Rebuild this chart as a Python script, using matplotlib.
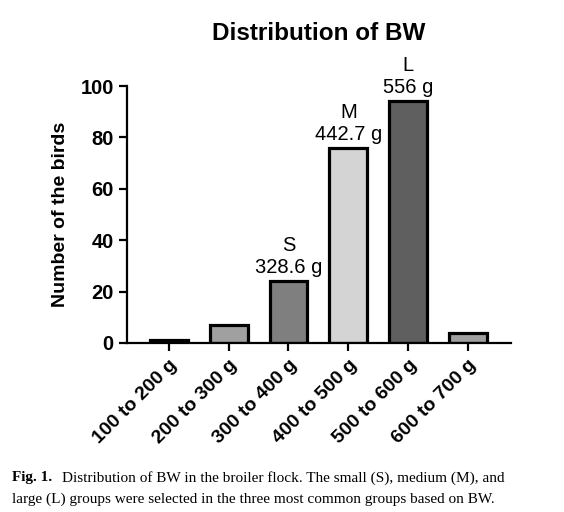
import matplotlib.pyplot as plt

plt.rcParams["font.family"] = ["Liberation Sans", "DejaVu Sans"]

bins = ["100 to 200 g", "200 to 300 g", "300 to 400 g",
        "400 to 500 g", "500 to 600 g", "600 to 700 g"]
counts = [1, 7, 24, 76, 94, 4]
colors = ["#000000", "#a0a0a0", "#7f7f7f", "#d4d4d4", "#5f5f5f", "#a0a0a0"]

groups = {2: "S\n328.6 g", 3: "M\n442.7 g", 4: "L\n556 g"}

fig = plt.figure(figsize=(5.64, 5.12), dpi=100)
ax = fig.add_axes([127 / 564, 1 - 343 / 512, (511 - 127) / 564, (343 - 86) / 512])

x = range(len(bins))
bars = ax.bar(x, counts, width=0.63, color=colors,
              edgecolor="black", linewidth=2.3)

for i, txt in groups.items():
    ax.annotate(txt, (i, counts[i]), xytext=(0, 3),
                textcoords="offset points", ha="center", va="bottom",
                fontsize=14.5, linespacing=1.2)

ax.set_xlim(-0.7, 5.72)
ax.set_ylim(0, 100)
ax.set_yticks([0, 20, 40, 60, 80, 100])
ax.set_xticks(list(x))
ax.set_xticklabels(bins, rotation=45, ha="right", rotation_mode="anchor",
                   fontsize=14, fontweight="bold")
for lab in ax.get_yticklabels():
    lab.set_fontsize(14.5)
    lab.set_fontweight("bold")

ax.spines["top"].set_visible(False)
ax.spines["right"].set_visible(False)
ax.spines["left"].set_linewidth(1.6)
ax.spines["bottom"].set_linewidth(1.6)
ax.tick_params(width=1.6, length=6)

ax.set_ylabel("Number of the birds", fontsize=14, fontweight="bold", labelpad=8)
ax.set_title("Distribution of BW", fontsize=17.5, fontweight="bold", pad=33)

fig.text(12 / 564, 1 - 478 / 512, "Fig. 1.", family="Liberation Serif",
         fontweight="bold", fontsize=11, va="center")
fig.text(62 / 564, 1 - 478 / 512,
         "Distribution of BW in the broiler flock. The small (S), medium (M), and",
         family="Liberation Serif", fontsize=11, va="center")
fig.text(12 / 564, 1 - 499 / 512,
         "large (L) groups were selected in the three most common groups based on BW.",
         family="Liberation Serif", fontsize=11, va="center")

fig.savefig("out.png")
